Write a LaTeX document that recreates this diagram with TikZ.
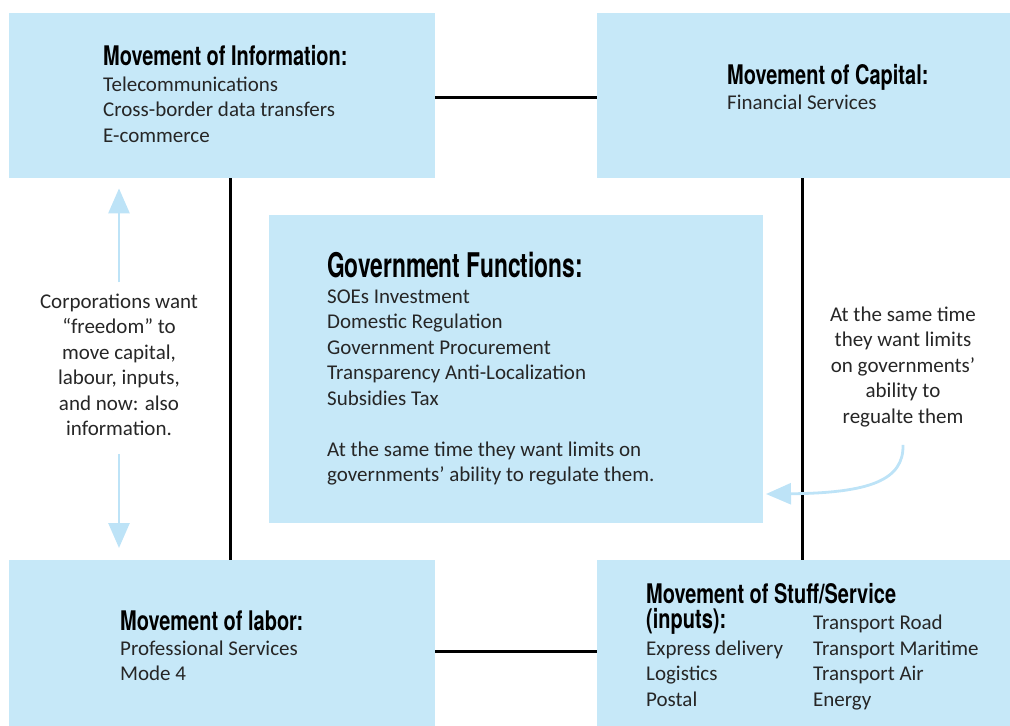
\documentclass[tikz,border=0pt]{standalone}
\usepackage{fontspec}
\setmainfont{Carlito}
\newfontfamily\headfont[FakeStretch=0.74]{TeX Gyre Heros}
\newfontfamily\bigheadfont[FakeStretch=0.67]{TeX Gyre Heros}
\usetikzlibrary{positioning,calc,arrows.meta}

\definecolor{boxblue}{HTML}{C6E8F8}
\definecolor{arrowblue}{HTML}{BDE3F7}
\definecolor{textgray}{HTML}{262626}

\tikzset{
    movebox/.style={fill=boxblue, minimum width=426pt, minimum height=165pt, inner sep=0pt, anchor=north west},
    heading/.style={font=\headfont\bfseries\fontsize{27}{25}\selectfont, anchor=base west, inner sep=0pt, align=left},
    itemlist/.style={font=\fontsize{21}{25.5}\selectfont, text=textgray, anchor=base west, inner sep=0pt, align=left},
    sidenote/.style={font=\fontsize{21}{25.5}\selectfont, text=textgray, anchor=base, inner sep=0pt, align=center},
    link/.style={line width=2.6pt},
    pull/.style={draw=arrowblue, line width=2.8pt, -{Triangle[width=21pt,length=25pt]}}
}

\begin{document}
\begin{tikzpicture}[x=1pt,y=-1pt]
    \useasboundingbox (0,0) rectangle (1010,726);

    % Boxes
    \node[movebox] (info) at (9,13) {};
    \node[movebox, minimum width=413pt] (capital) at (597,13) {};
    \node[movebox, minimum width=494pt, minimum height=308pt] (gov) at (269,215) {};
    \node[movebox, minimum height=166pt] (labor) at (9,560) {};
    \node[movebox, minimum width=413pt, minimum height=166pt] (stuff) at (597,560) {};

    % Links between boxes
    \draw[link] ([yshift=-1.5pt]info.east) -- ([yshift=-1.5pt]capital.west);
    \draw[link] ([yshift=-8pt]labor.east) -- ([yshift=-8pt]stuff.west);
    \draw[link] ([xshift=8pt]info.south) -- ([xshift=8pt]labor.north);
    \draw[link] ([xshift=-1.5pt]capital.south) -- ([xshift=-1.5pt]stuff.north);

    % Information (multi-line nodes sit on their last baseline)
    \node[heading] (infotitle) at (103,65) {Movement of Information:};
    \node[itemlist] (infolist) at (103,142) {Telecommunications\\Cross-border data transfers\\E-commerce};

    % Capital
    \node[heading] (capitaltitle) at (727,84) {Movement of Capital:};
    \node[itemlist] (capitallist) at (727,109) {Financial Services};

    % Government
    \node[heading, font=\bigheadfont\bfseries\fontsize{34}{34}\selectfont] (govtitle) at (327,277) {Government Functions:};
    \node[itemlist] (govlist) at (327,481.5) {SOEs Investment\\Domestic Regulation\\Government Procurement\\Transparency Anti-Localization\\Subsidies Tax\\[25.5pt]At the same time they want limits on\\governments’ ability to regulate them.};

    % Labor
    \node[heading] (labortitle) at (120,630) {Movement of labor:};
    \node[itemlist] (laborlist) at (120,680.5) {Professional Services\\Mode 4};

    % Stuff
    \node[heading] (stufftitle) at (646,628) {Movement of Stuff/Service\\(inputs):};
    \node[itemlist] (stufflist) at (646,706) {Express delivery\\Logistics\\Postal};
    \node[itemlist] (transportlist) at (813,706) {Transport Road\\Transport Maritime\\Transport Air\\Energy};

    % Side notes
    \node[sidenote] (freedom) at (119,435.5) {Corporations want\\“freedom” to\\move capital,\\labour, inputs,\\and now: also\\information.};
    \node[sidenote] (limits) at (903,423) {At the same time\\they want limits\\on governments’\\ability to\\regualte them};

    % Arrows
    \draw[pull] ([yshift=11pt]freedom.north) -- ([yshift=-10pt]freedom.north |- info.south);
    \draw[pull] ([yshift=-18pt]freedom.south) -- ([yshift=12pt]freedom.south |- labor.north);
    \coordinate (tip) at (766,494);
    \draw[pull] ([yshift=-18pt]limits.south) .. controls (904,480) and (870,493) .. (tip);
\end{tikzpicture}
\end{document}
